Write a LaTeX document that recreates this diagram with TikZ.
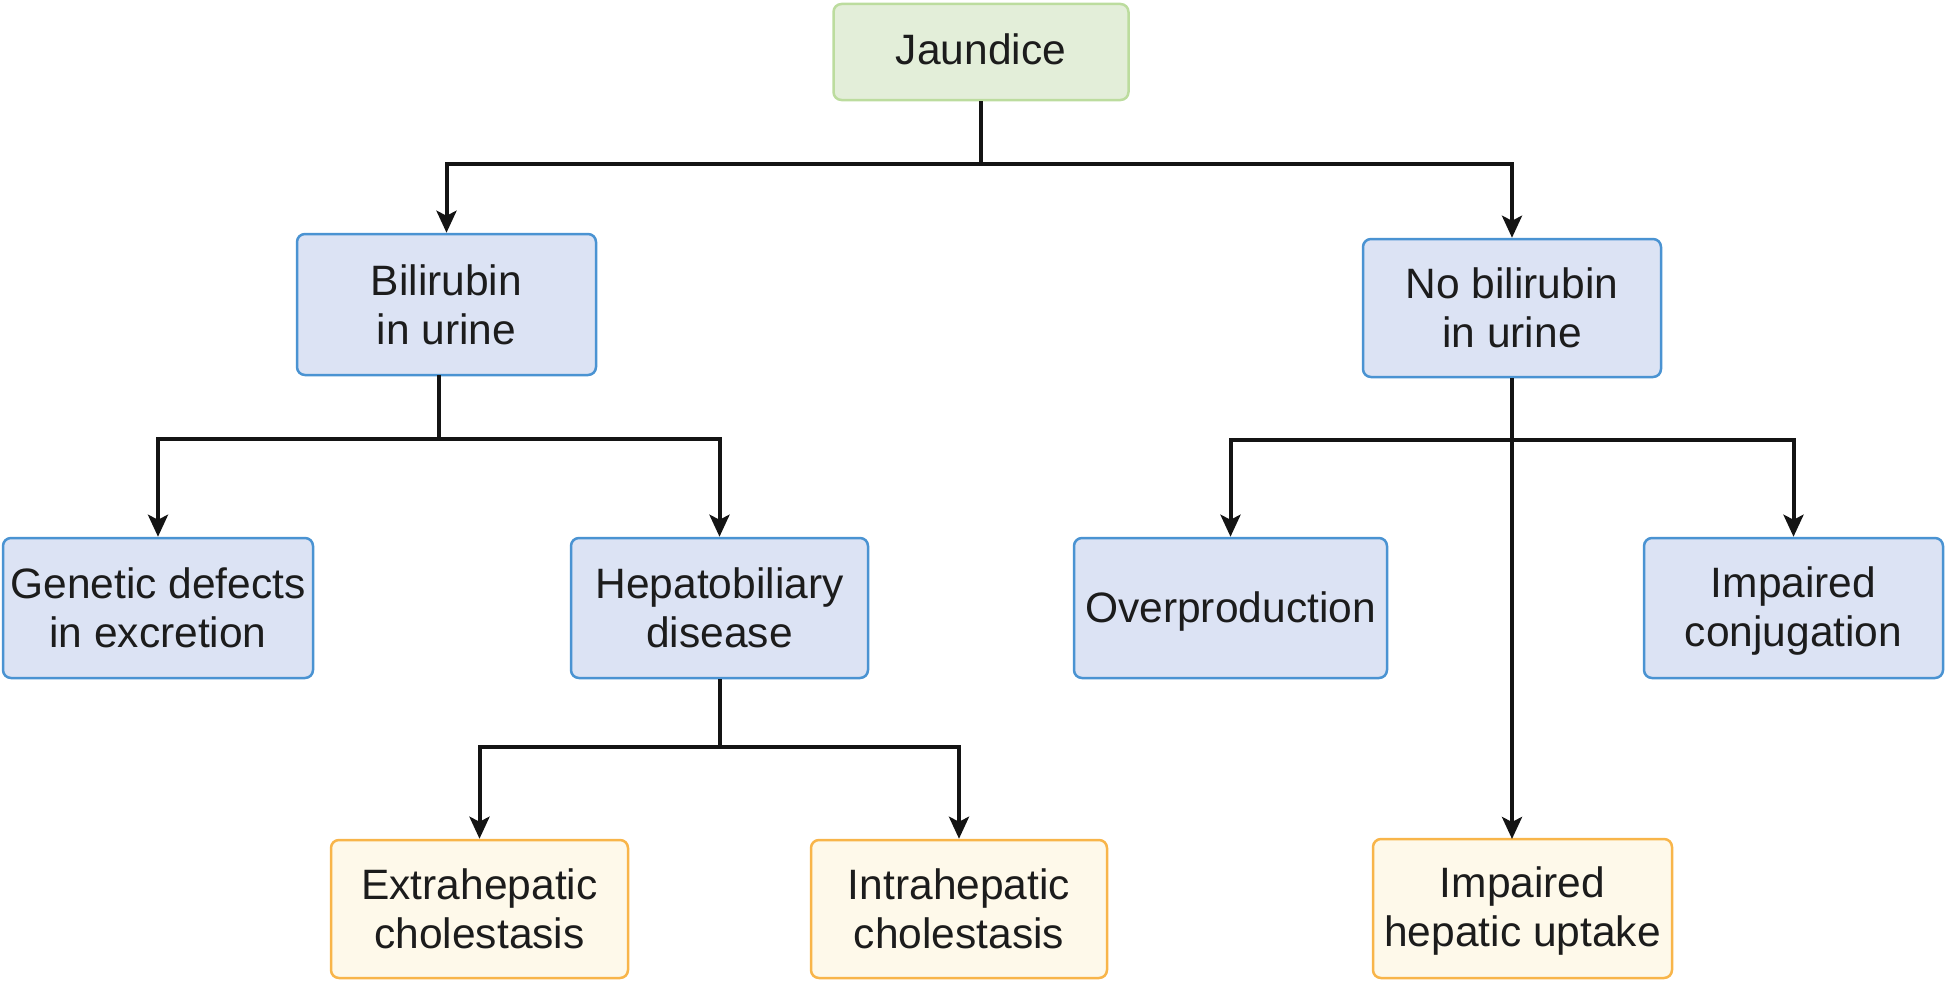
\documentclass[tikz,border=0pt]{standalone}
\usepackage{fontspec}
\setmainfont{Liberation Sans}
\usetikzlibrary{arrows.meta}
\definecolor{gfill}{HTML}{E3EED9}
\definecolor{gdraw}{HTML}{BCDC9E}
\definecolor{bfill}{HTML}{DCE3F4}
\definecolor{bdraw}{HTML}{4A93D2}
\definecolor{ofill}{HTML}{FEF9EA}
\definecolor{odraw}{HTML}{F8B54A}
\definecolor{txt}{HTML}{1C1C1C}
\newcommand{\shiftdn}[2]{\raisebox{-#1}[\height][\depth]{#2}}
\tikzset{
  box/.style={rounded corners=8pt, line width=2.5pt, align=center, inner sep=0pt,
    font=\fontsize{42.5}{49}\selectfont, text=txt},
  gbox/.style={box, fill=gfill, draw=gdraw},
  bbox/.style={box, fill=bfill, draw=bdraw},
  obox/.style={box, fill=ofill, draw=odraw},
  conn/.style={line width=4pt, draw=black!92},
  arr/.style={conn, -{Stealth[length=22pt,width=20pt,inset=5pt]}},
}
\begin{document}
\begin{tikzpicture}[x=1pt,y=-1pt]
\useasboundingbox (0,0) rectangle (1959,990);
\node[gbox, minimum width=295pt, minimum height=96pt] (jaundice) at (981,52) {\shiftdn{-2.5pt}{Jaundice}};
\node[bbox, minimum width=299pt, minimum height=141pt] (bil) at (446.5,304.5) {Bilirubin\\in urine};
\node[bbox, minimum width=298pt, minimum height=138pt] (nobil) at (1512,308) {No bilirubin\\in urine};
\node[bbox, minimum width=310pt, minimum height=140pt] (gen) at (158,608) {Genetic defects\\in excretion};
\node[bbox, minimum width=297pt, minimum height=140pt] (hep) at (719.5,608) {Hepatobiliary\\disease};
\node[bbox, minimum width=313pt, minimum height=140pt] (over) at (1230.5,608) {\shiftdn{3.5pt}{Overproduction}};
\node[bbox, minimum width=299pt, minimum height=140pt] (conj) at (1793.5,608) {\shiftdn{3.5pt}{Impaired}\\\shiftdn{3.5pt}{conjugation}};
\node[obox, minimum width=297pt, minimum height=138pt] (extra) at (479.5,909) {Extrahepatic\\cholestasis};
\node[obox, minimum width=296pt, minimum height=138pt] (intra) at (959,909) {Intrahepatic\\cholestasis};
\node[obox, minimum width=299pt, minimum height=139pt] (uptake) at (1522.5,908.5) {\shiftdn{2pt}{Impaired}\\\shiftdn{2pt}{hepatic uptake}};
% connectors
\coordinate (j1) at (981,164);
\draw[conn] (jaundice.south) -- (j1);
\draw[arr] (j1) -| (bil.north);
\draw[arr] (j1) -| (nobil.north);
\coordinate (b0) at (439,375);
\coordinate (b1) at (439,439);
\draw[conn] (b0) -- (b1);
\draw[arr] (b1) -| (gen.north);
\draw[arr] (b1) -| (hep.north);
\coordinate (h1) at (719.5,747);
\draw[conn] (hep.south) -- (h1);
\draw[arr] (h1) -| (extra.north);
\draw[arr] (h1) -| (intra.north);
\coordinate (n1) at (1512,440);
\coordinate (n2) at (1512,839);
\draw[arr] (nobil.south) -- (n2);
\draw[arr] (n1) -| (over.north);
\draw[arr] (n1) -| (conj.north);
\end{tikzpicture}
\end{document}
